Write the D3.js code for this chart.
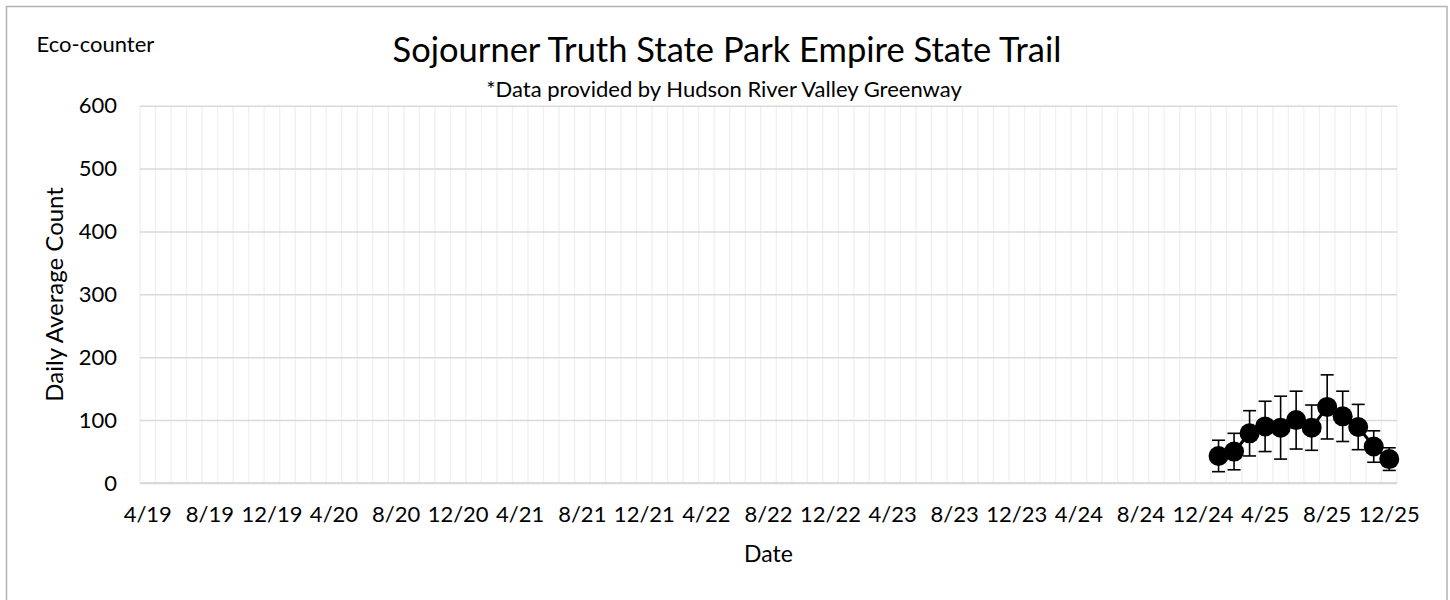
<!DOCTYPE html>
<html>
<head>
<meta charset="utf-8">
<script src="https://cdn.jsdelivr.net/npm/d3@7"></script>
<style>
  body { margin: 0; background: #fff; }
  svg { display: block; font-family: Lato, "Open Sans", sans-serif; }
</style>
</head>
<body>
<svg id="chart" width="1450" height="600"></svg>
<script>
// ---- data ----
const firstMonth = new Date(2019, 3, 1);   // 4/19
const endMonth = new Date(2026, 0, 1);     // after 12/25
const tickLabels = ["4/19","8/19","12/19","4/20","8/20","12/20","4/21","8/21","12/21",
  "4/22","8/22","12/22","4/23","8/23","12/23","4/24","8/24","12/24","4/25","8/25","12/25"];
const yTicks = [0, 100, 200, 300, 400, 500, 600];
const pointMonths = ["1/25","2/25","3/25","4/25","5/25","6/25","7/25","8/25","9/25","10/25","11/25","12/25"];
const dailyAverage = [43, 50, 79, 90, 88, 100, 88, 121, 106, 89, 58, 38];
const errorAmount = [25, 29, 36, 40, 50, 46, 36, 51, 40, 36, 25, 18];

const fmt = d3.timeFormat("%-m/%y");
const categories = d3.timeMonth.range(firstMonth, endMonth).map(fmt);

// ---- layout ----
const svg = d3.select("#chart");
const plot = { left: 140, right: 1397, top: 105.7, bottom: 483 };

// chart frame
svg.append("rect")
  .attr("x", 6.5).attr("y", 6.5).attr("width", 1440.5).attr("height", 620)
  .attr("fill", "#fff").attr("stroke", "#b3b3b3").attr("stroke-width", 1.5);

const x = d3.scaleBand().domain(categories).range([plot.left, plot.right]).padding(0);
const y = d3.scaleLinear().domain([0, 600]).range([plot.bottom, plot.top]);

// vertical minor gridlines (category boundaries)
const vLines = categories.map(c => x(c)).concat([plot.right]);
svg.append("g").selectAll("line").data(vLines).join("line")
  .attr("x1", d => d).attr("x2", d => d)
  .attr("y1", plot.top).attr("y2", plot.bottom)
  .attr("stroke", "#f0f0f0").attr("stroke-width", 1.3);

// horizontal gridlines + y labels
const yAxis = svg.append("g").attr("transform", `translate(${plot.left},0)`)
  .call(d3.axisLeft(y).tickValues(yTicks).tickSize(-(plot.right - plot.left)).tickPadding(23));
yAxis.select(".domain").remove();
yAxis.selectAll(".tick line").attr("stroke", "#d9d9d9").attr("stroke-width", 1.5);
yAxis.selectAll(".tick text").attr("font-size", 22).attr("fill", "#000")
  .attr("font-family", "Lato, sans-serif");

// x axis labels
const xAxis = svg.append("g").attr("transform", `translate(0,${plot.bottom})`)
  .call(d3.axisBottom(x).tickValues(tickLabels).tickSize(0).tickPadding(23));
xAxis.select(".domain").remove();
xAxis.selectAll(".tick text").attr("font-size", 22).attr("fill", "#000")
  .attr("font-family", "Lato, sans-serif");

// bottom axis line
svg.append("line")
  .attr("x1", plot.left).attr("x2", plot.right)
  .attr("y1", y(0)).attr("y2", y(0))
  .attr("stroke", "#d9d9d9").attr("stroke-width", 2);

// data
const pts = pointMonths.map((m, i) => ({ m, v: dailyAverage[i], e: errorAmount[i] }));
const cx = d => x(d.m) + x.bandwidth() / 2;

const g = svg.append("g");
// error bars
const eb = g.selectAll("g.eb").data(pts).join("g").attr("class", "eb")
  .attr("stroke", "#000").attr("stroke-width", 1.6);
eb.append("line").attr("x1", cx).attr("x2", cx)
  .attr("y1", d => y(d.v + d.e)).attr("y2", d => y(d.v - d.e));
eb.append("line").attr("x1", d => cx(d) - 6.5).attr("x2", d => cx(d) + 6.5)
  .attr("y1", d => y(d.v + d.e)).attr("y2", d => y(d.v + d.e));
eb.append("line").attr("x1", d => cx(d) - 6.5).attr("x2", d => cx(d) + 6.5)
  .attr("y1", d => y(d.v - d.e)).attr("y2", d => y(d.v - d.e));

// connecting line
g.append("path").datum(pts)
  .attr("fill", "none").attr("stroke", "#000").attr("stroke-width", 3)
  .attr("d", d3.line().x(cx).y(d => y(d.v)));

// markers
g.selectAll("circle").data(pts).join("circle")
  .attr("cx", cx).attr("cy", d => y(d.v)).attr("r", 10).attr("fill", "#000");

// texts
svg.append("text").attr("x", 36.5).attr("y", 51.5)
  .attr("font-size", 22).text("Eco-counter");
svg.append("text").attr("x", 727).attr("y", 61.5).attr("text-anchor", "middle")
  .attr("font-size", 34.5).text("Sojourner Truth State Park Empire State Trail");
svg.append("text").attr("x", 724).attr("y", 96.5).attr("text-anchor", "middle")
  .attr("font-size", 22).text("*Data provided by Hudson River Valley Greenway");
svg.append("text").attr("transform", `translate(63,${(plot.top + plot.bottom) / 2}) rotate(-90)`)
  .attr("text-anchor", "middle").attr("font-size", 24).text("Daily Average Count");
svg.append("text").attr("x", (plot.left + plot.right) / 2).attr("y", 561.5)
  .attr("text-anchor", "middle").attr("font-size", 23).text("Date");
</script>
</body>
</html>
